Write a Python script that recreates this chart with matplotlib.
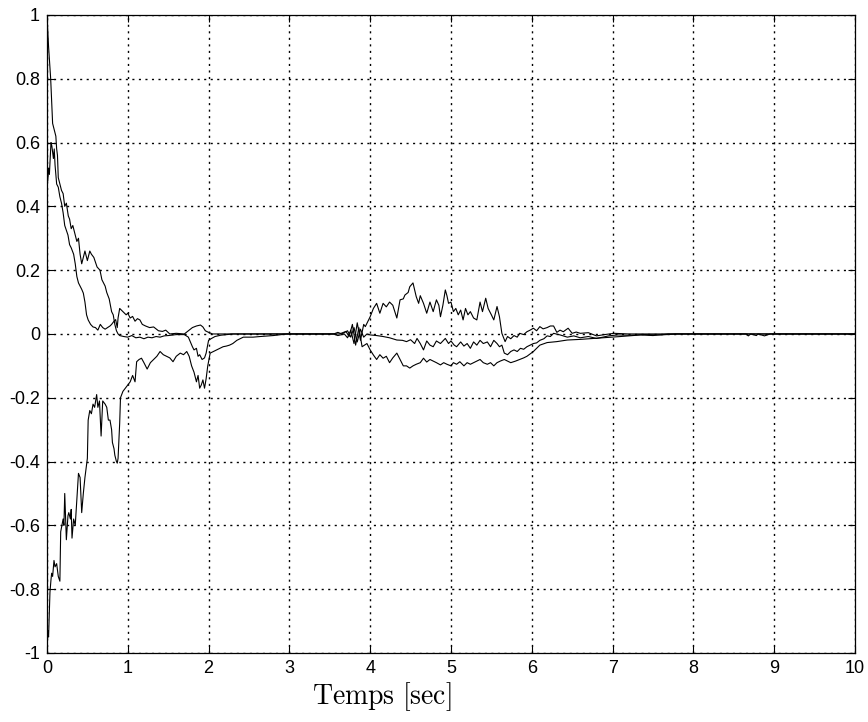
"""
Convergence of three error signals over time (MATLAB-style figure)
"""

import matplotlib
matplotlib.use('Agg')
import matplotlib.pyplot as plt


#################################
# Data      #
#################################

# curve starting at +1
t1 = [0.00, 0.02, 0.046, 0.06, 0.07, 0.09, 0.11, 0.12, 0.13, 0.14, 0.16, 0.18, 0.20, 0.22, 0.24,
      0.264, 0.28, 0.30, 0.32, 0.35, 0.37, 0.39, 0.41, 0.43, 0.45, 0.47, 0.50, 0.53, 0.55, 0.58,
      0.62, 0.656, 0.68, 0.70, 0.72, 0.74, 0.77, 0.80, 0.82, 0.84, 0.86, 0.88, 0.90, 0.95, 1.00,
      1.05, 1.10, 1.15, 1.20, 1.25, 1.30, 1.35, 1.40, 1.45, 1.50, 1.60, 1.70, 1.75, 1.80, 1.82,
      1.85, 1.87, 1.89, 1.92, 1.95, 1.97, 2.00, 2.03, 2.08, 2.15, 2.30, 3.55, 3.60, 3.65, 3.72,
      3.76, 3.80, 3.84, 3.88, 3.92, 3.96, 4.00, 4.08, 4.16, 4.24, 4.33, 4.40, 4.45, 4.50, 4.55,
      4.58, 4.62, 4.66, 4.70, 4.74, 4.78, 4.82, 4.87, 4.93, 4.97, 5.00, 5.04, 5.07, 5.12, 5.16,
      5.20, 5.24, 5.28, 5.32, 5.36, 5.40, 5.45, 5.49, 5.53, 5.57, 5.60, 5.63, 5.66, 5.70, 5.74,
      5.78, 5.82, 5.86, 5.90, 5.94, 5.98, 6.02, 6.06, 6.10, 6.15, 6.19, 6.23, 6.27, 6.35, 6.44,
      6.52, 6.60, 6.70, 6.80, 6.88, 6.95, 7.06, 7.20, 7.40, 7.60, 7.80, 10.0]
y1 = [1.00, 0.90, 0.80, 0.72, 0.66, 0.64, 0.62, 0.58, 0.56, 0.49, 0.47, 0.45, 0.44, 0.40, 0.41,
      0.37, 0.36, 0.33, 0.34, 0.31, 0.29, 0.30, 0.25, 0.22, 0.24, 0.26, 0.23, 0.26, 0.25, 0.24,
      0.21, 0.20, 0.17, 0.16, 0.15, 0.13, 0.11, 0.07, 0.06, 0.03, 0.01, 0.00, -0.005, -0.008, -0.01,
      -0.005, -0.012, -0.01, -0.015, -0.01, -0.012, -0.008, -0.01, -0.006, -0.005, -0.002, -0.002, -0.01, -0.04, -0.05,
      -0.045, -0.07, -0.065, -0.08, -0.075, -0.06, -0.02, -0.015, -0.008, -0.004, 0.0, 0.0, 0.005, 0.0, 0.01,
      -0.01, 0.02, -0.025, 0.015, -0.01, 0.0, -0.003, -0.005, -0.008, -0.012, -0.019, -0.02, -0.024, -0.018, -0.03,
      -0.014, -0.03, -0.05, -0.022, -0.035, -0.04, -0.022, -0.03, -0.014, -0.03, -0.022, -0.035, -0.04, -0.025, -0.038,
      -0.03, -0.045, -0.025, -0.035, -0.02, -0.03, -0.025, -0.04, -0.02, -0.03, -0.04, -0.035, -0.06, -0.065, -0.055,
      -0.05, -0.055, -0.045, -0.048, -0.04, -0.035, -0.03, -0.028, -0.02, -0.015, -0.006, -0.008, 0.002, -0.003, -0.01,
      -0.006, -0.012, -0.008, -0.014, -0.01, -0.006, -0.003, -0.004, -0.002, -0.003, 0.0, 0.0]

# curve starting at +0.5
t2 = [0.00, 0.01, 0.02, 0.03, 0.05, 0.06, 0.07, 0.08, 0.09, 0.10, 0.12, 0.14, 0.16, 0.18, 0.20,
      0.22, 0.24, 0.26, 0.28, 0.30, 0.33, 0.35, 0.37, 0.39, 0.41, 0.43, 0.45, 0.47, 0.49, 0.51,
      0.54, 0.57, 0.60, 0.63, 0.66, 0.69, 0.72, 0.75, 0.78, 0.80, 0.83, 0.85, 0.87, 0.88, 0.90,
      0.92, 0.94, 0.96, 0.98, 1.00, 1.03, 1.06, 1.09, 1.12, 1.15, 1.18, 1.22, 1.27, 1.32, 1.38,
      1.43, 1.47, 1.52, 1.60, 1.70, 1.75, 1.80, 1.85, 1.90, 1.93, 1.96, 2.00, 2.05, 3.55, 3.60,
      3.68, 3.72, 3.76, 3.80, 3.84, 3.88, 3.92, 3.94, 4.00, 4.04, 4.08, 4.12, 4.16, 4.20, 4.24,
      4.28, 4.33, 4.37, 4.41, 4.43, 4.47, 4.49, 4.53, 4.57, 4.60, 4.62, 4.66, 4.70, 4.74, 4.78,
      4.82, 4.85, 4.87, 4.90, 4.93, 4.95, 4.97, 5.00, 5.03, 5.06, 5.09, 5.12, 5.15, 5.18, 5.21,
      5.24, 5.28, 5.32, 5.36, 5.39, 5.43, 5.46, 5.50, 5.53, 5.57, 5.60, 5.63, 5.67, 5.70, 5.74,
      5.78, 5.82, 5.85, 5.90, 5.94, 5.98, 6.02, 6.06, 6.10, 6.14, 6.19, 6.23, 6.27, 6.31, 6.35,
      6.39, 6.45, 6.50, 6.55, 6.60, 6.70, 6.80, 6.90, 7.02, 7.20, 10.0]
y2 = [0.50, 0.48, 0.52, 0.50, 0.60, 0.59, 0.57, 0.55, 0.58, 0.53, 0.47, 0.46, 0.43, 0.41, 0.38,
      0.34, 0.325, 0.31, 0.28, 0.27, 0.25, 0.22, 0.18, 0.16, 0.15, 0.14, 0.128, 0.10, 0.06, 0.044,
      0.03, 0.022, 0.02, 0.012, 0.03, 0.02, 0.015, 0.02, 0.025, 0.03, 0.04, 0.045, 0.02, 0.05, 0.08,
      0.075, 0.07, 0.065, 0.06, 0.065, 0.05, 0.055, 0.04, 0.048, 0.044, 0.03, 0.025, 0.02, 0.022, 0.01,
      0.008, 0.012, 0.0, 0.002, 0.0, 0.01, 0.02, 0.025, 0.028, 0.022, 0.01, 0.005, 0.0, 0.0, -0.005,
      0.0, -0.012, 0.012, -0.03, 0.035, -0.02, 0.03, 0.023, 0.054, 0.08, 0.096, 0.065, 0.096, 0.085, 0.10,
      0.09, 0.05, 0.107, 0.11, 0.122, 0.13, 0.148, 0.16, 0.117, 0.096, 0.12, 0.096, 0.065, 0.10, 0.07,
      0.107, 0.09, 0.054, 0.09, 0.138, 0.12, 0.096, 0.10, 0.07, 0.08, 0.06, 0.075, 0.044, 0.08, 0.06,
      0.07, 0.05, 0.044, 0.10, 0.07, 0.112, 0.08, 0.06, 0.044, 0.086, 0.054, 0.002, -0.024, -0.008, -0.015,
      -0.005, -0.01, 0.002, -0.002, 0.007, 0.012, 0.018, 0.01, 0.023, 0.016, 0.02, 0.025, 0.025, 0.005, 0.012,
      0.007, 0.018, 0.002, 0.006, 0.002, 0.004, -0.006, -0.002, 0.002, 0.0, 0.0]

# curve starting at -1
t3 = [0.00, 0.005, 0.01, 0.02, 0.037, 0.05, 0.058, 0.07, 0.087, 0.10, 0.12, 0.14, 0.16, 0.17, 0.20,
      0.21, 0.22, 0.23, 0.24, 0.26, 0.27, 0.29, 0.30, 0.31, 0.33, 0.35, 0.37, 0.39, 0.41, 0.43,
      0.45, 0.47, 0.50, 0.51, 0.53, 0.55, 0.57, 0.59, 0.615, 0.63, 0.65, 0.67, 0.69, 0.72, 0.74,
      0.76, 0.78, 0.80, 0.81, 0.83, 0.84, 0.86, 0.87, 0.88, 0.90, 0.91, 0.94, 0.97, 1.00, 1.03,
      1.06, 1.09, 1.11, 1.14, 1.17, 1.20, 1.24, 1.28, 1.32, 1.36, 1.40, 1.44, 1.48, 1.52, 1.56,
      1.60, 1.65, 1.69, 1.73, 1.76, 1.79, 1.82, 1.85, 1.87, 1.89, 1.91, 1.93, 1.95, 1.97, 1.99,
      2.02, 2.06, 2.10, 2.14, 2.18, 2.22, 2.26, 2.30, 2.35, 2.43, 2.55, 2.64, 2.80, 2.97, 3.55,
      3.62, 3.70, 3.74, 3.78, 3.82, 3.86, 3.90, 3.96, 4.00, 4.04, 4.08, 4.12, 4.16, 4.20, 4.24,
      4.28, 4.33, 4.37, 4.41, 4.45, 4.49, 4.53, 4.57, 4.62, 4.66, 4.70, 4.74, 4.78, 4.82, 4.87,
      4.91, 4.95, 5.00, 5.03, 5.07, 5.11, 5.16, 5.20, 5.24, 5.28, 5.32, 5.36, 5.40, 5.45, 5.49,
      5.53, 5.57, 5.61, 5.66, 5.70, 5.74, 5.80, 5.85, 5.90, 5.94, 6.02, 6.10, 6.19, 6.31, 6.44,
      6.60, 6.77, 6.93, 7.10, 7.35, 7.50, 7.68, 8.65, 8.68, 8.71, 8.78, 8.80, 8.88, 8.95, 10.0]
y3 = [-0.97, -0.97, -0.93, -0.95, -0.81, -0.77, -0.75, -0.76, -0.71, -0.73, -0.72, -0.76, -0.775, -0.62, -0.58,
      -0.60, -0.50, -0.57, -0.645, -0.57, -0.56, -0.58, -0.55, -0.64, -0.58, -0.60, -0.52, -0.437, -0.45, -0.56,
      -0.50, -0.45, -0.39, -0.27, -0.24, -0.25, -0.22, -0.23, -0.19, -0.23, -0.21, -0.32, -0.21, -0.22, -0.23,
      -0.27, -0.27, -0.30, -0.34, -0.36, -0.38, -0.40, -0.405, -0.39, -0.28, -0.20, -0.18, -0.17, -0.16, -0.15,
      -0.13, -0.15, -0.087, -0.08, -0.076, -0.09, -0.11, -0.09, -0.08, -0.07, -0.055, -0.065, -0.07, -0.075, -0.087,
      -0.07, -0.06, -0.065, -0.055, -0.07, -0.10, -0.12, -0.15, -0.13, -0.17, -0.16, -0.144, -0.17, -0.14, -0.10,
      -0.06, -0.055, -0.05, -0.045, -0.04, -0.038, -0.035, -0.03, -0.02, -0.01, -0.01, -0.008, -0.005, 0.0, 0.0,
      0.0, 0.008, -0.008, 0.03, -0.035, 0.02, -0.04, -0.03, -0.05, -0.066, -0.08, -0.065, -0.076, -0.07, -0.09,
      -0.075, -0.06, -0.08, -0.10, -0.10, -0.107, -0.10, -0.095, -0.09, -0.076, -0.088, -0.08, -0.085, -0.09, -0.097,
      -0.09, -0.095, -0.10, -0.09, -0.095, -0.087, -0.10, -0.09, -0.095, -0.09, -0.085, -0.08, -0.09, -0.095, -0.09,
      -0.10, -0.09, -0.085, -0.08, -0.085, -0.09, -0.085, -0.08, -0.075, -0.07, -0.055, -0.035, -0.027, -0.024, -0.019,
      -0.017, -0.014, -0.011, -0.008, -0.003, -0.005, 0.0, 0.0, -0.006, 0.0, -0.005, 0.0, -0.006, 0.0, 0.0]

xticks = [0, 1, 2, 3, 4, 5, 6, 7, 8, 9, 10]
yticks = [-1, -0.8, -0.6, -0.4, -0.2, 0, 0.2, 0.4, 0.6, 0.8, 1]
yticklabels = ['-1', '-0.8', '-0.6', '-0.4', '-0.2', '0', '0.2', '0.4', '0.6', '0.8', '1']

#################################

plt.rcParams['font.family'] = ['Liberation Sans', 'DejaVu Sans']
plt.rcParams['axes.unicode_minus'] = False
plt.rcParams['mathtext.fontset'] = 'cm'

fig = plt.figure(figsize=(8.68, 7.22), dpi=100)
fig.set_facecolor('white')
ax = fig.add_axes([0.0541, 0.0956, 0.9309, 0.8837])

for t, y in [(t1, y1), (t2, y2), (t3, y3)]:
    ax.plot(t, y, color='black', linewidth=0.8)

ax.set_xlim(0, 10)
ax.set_ylim(-1, 1)
ax.set_xticks(xticks)
ax.set_xticklabels([str(v) for v in xticks])
ax.set_yticks(yticks)
ax.set_yticklabels(yticklabels)

# matlab look: ticks inside on all sides, dotted grid
ax.tick_params(axis='both', which='both', direction='in', length=5, width=0.8,
               top=True, right=True, labelsize=13, pad=5)
ax.grid(True, color='black', linestyle=(0, (1.5, 3.2)), linewidth=1.0)
for sp in ax.spines.values():
    sp.set_linewidth(0.9)

ax.set_xlabel(r'$\mathrm{Temps\ [sec]}$', fontsize=20)
ax.xaxis.set_label_coords(0.415, -0.069)
ax.xaxis.label.set_va('center')

plt.savefig('out.png', dpi=100)
plt.close()
